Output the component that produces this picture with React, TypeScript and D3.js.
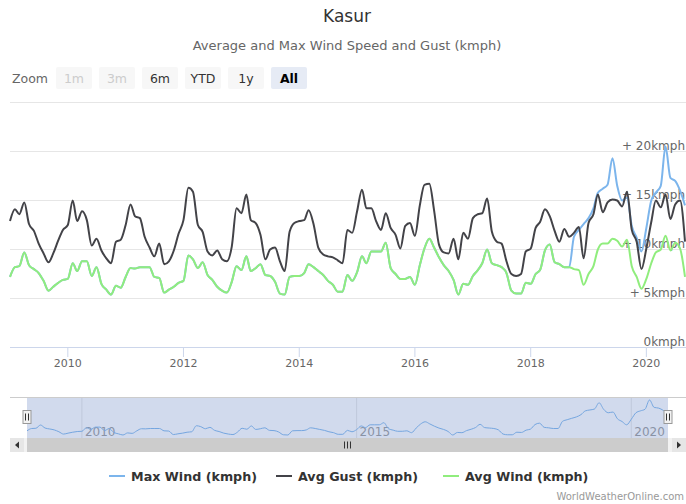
import React from "react";
import * as d3 from "d3";

// ---- data (monthly, Jan 2009 .. Sep 2020) ----
const startYear = 2009;
const avgGust = [
  12.9, 14.1, 13.6, 14.8, 12.6, 11.9, 10.6, 9.6, 8.7, 9.6, 10.9, 12.0,
  12.5, 15.0, 12.9, 13.9, 13.0, 10.4, 11.1, 9.9, 9.1, 8.6, 10.8, 11.0,
  12.5, 14.6, 13.4, 13.2, 11.3, 10.2, 9.3, 10.6, 8.5, 8.8, 9.9, 11.6,
  13.0, 16.3, 15.9, 12.5, 11.8, 9.8, 9.4, 9.9, 9.0, 8.8, 10.3, 14.2,
  13.7, 15.6, 13.0, 12.7, 11.5, 9.0, 10.0, 10.2, 8.8, 7.8, 11.8, 12.7,
  12.9, 13.0, 14.0, 12.6, 10.2, 9.5, 9.3, 9.2, 8.9, 8.6, 12.0, 11.7,
  13.9, 16.1, 14.2, 14.2, 12.9, 12.0, 13.7, 12.2, 11.5, 10.1, 12.4, 12.7,
  11.4, 14.5, 16.6, 16.7, 14.0, 10.5, 9.7, 9.6, 11.1, 9.0, 11.7, 11.1,
  13.2, 13.6, 13.7, 15.2, 11.8, 10.8, 10.6, 8.8, 7.5, 7.3, 7.5, 9.8,
  10.1, 12.2, 12.8, 14.1, 13.4, 11.9, 10.8, 12.1, 11.3, 11.7, 12.3, 9.1,
  12.7, 13.6, 15.6, 13.8, 14.8, 15.1, 15.0, 14.4, 15.9, 12.0, 10.8, 8.0,
  10.1, 12.8, 15.0, 14.3, 15.6, 13.1, 14.6, 15.0, 10.8,
];
const avgWind = [
  7.2, 8.2, 8.3, 9.7, 8.4, 8.0, 7.6, 6.8, 5.8, 6.2, 6.6, 6.9,
  7.0, 8.6, 7.8, 8.8, 8.8, 7.3, 8.2, 6.5, 5.9, 5.4, 6.3, 6.1,
  7.2, 8.1, 8.05, 8.2, 8.2, 8.2, 7.2, 7.1, 5.6, 5.9, 6.2, 6.6,
  6.8, 9.4, 9.0, 8.1, 8.7, 7.4, 6.9, 6.2, 5.8, 5.6, 6.7, 8.3,
  7.9, 9.3, 7.8, 8.1, 8.5, 7.4, 7.3, 6.7, 5.5, 5.4, 7.2, 7.3,
  7.3, 7.6, 8.5, 8.2, 7.8, 7.4, 6.8, 6.4, 5.7, 5.7, 7.4, 6.8,
  7.7, 9.3, 8.6, 9.8, 9.8, 9.8, 10.7, 8.1, 7.5, 7.0, 7.0, 7.2,
  6.4, 8.4, 10.1, 11.1, 10.2, 9.2, 8.4, 7.8, 6.9, 5.4, 6.5, 6.4,
  7.3, 7.9, 8.6, 10.0, 8.6, 8.4, 8.2, 7.6, 5.8, 5.5, 5.5, 6.6,
  6.5, 7.5, 7.9, 9.9, 10.5, 8.7, 8.5, 8.2, 8.2, 8.0, 7.9, 6.4,
  7.5, 8.3, 10.0, 10.6, 10.6, 11.1, 10.9, 10.3, 11.0, 8.3, 7.2, 6.0,
  7.0, 8.6, 9.7, 10.0, 11.4, 9.9, 10.7, 10.1, 7.2,
];
// Max Wind is only distinguishable from month index 116 on (earlier it lies under Avg Wind)
const maxWindStartIndex = 116;
const maxWindLate = [
  8.2, 11.3, 12.0, 12.6, 13.2, 14.2, 15.8, 16.2, 16.6, 19.3, 16.5, 15.0,
  15.3, 12.4, 11.2, 9.8, 12.2, 15.0, 15.8, 16.5, 20.5, 17.3, 17.0, 16.0, 14.5,
];
const maxWind = avgWind.slice(0, maxWindStartIndex).concat(maxWindLate);

const yTicks = [0, 5, 10, 15, 20, 25];
const yLabels = ["0kmph", "+ 5kmph", "+ 10kmph", "+ 15kmph", "+ 20kmph", ""];
const xTickYears = [2010, 2012, 2014, 2016, 2018, 2020];
const navTickYears = [2010, 2015, 2020];
const zoomButtons = ["1m", "3m", "6m", "YTD", "1y", "All"];
const disabledButtons = ["1m", "3m"];
const selectedButton = "All";

const series = [
  { name: "Max Wind (kmph)", values: maxWind, color: "#7cb5ec" },
  { name: "Avg Gust (kmph)", values: avgGust, color: "#434348" },
  { name: "Avg Wind (kmph)", values: avgWind, color: "#90ed7d" },
];

const FONT = "'DejaVu Sans', Verdana, sans-serif";

export default function App() {
  const W = 686, H = 504;
  const start = new Date(startYear, 0, 1);
  const dates = avgGust.map((_, i) => d3.timeMonth.offset(start, i));
  const end = dates[dates.length - 1];

  const x = d3.scaleTime().domain([start, end]).range([10, 685]);
  const y = d3.scaleLinear().domain([0, 25]).range([347.5, 102.5]);

  const xn = d3.scaleTime().domain([start, end]).range([27, 668]);
  const yn = d3.scaleLinear().domain([5.4, 20.5]).range([435, 400]);

  const line = d3
    .line<number>()
    .x((_, i) => x(dates[i]))
    .y((v) => y(v))
    .curve(d3.curveMonotoneX);
  const navLine = d3
    .line<number>()
    .x((_, i) => xn(dates[i]))
    .y((v) => yn(v))
    .curve(d3.curveMonotoneX);

  const btnX0 = 56, btnStep = 43, btnW = 36;

  const legendItems = [
    { sx: 109, tx: 131 },
    { sx: 276, tx: 298 },
    { sx: 443, tx: 465 },
  ];

  return (
    <svg
      width={W}
      height={H}
      style={{ position: "absolute", left: 0, top: 0, background: "#fff" }}
      fontFamily={FONT}
    >
      {/* Title */}
      <text x={347} y={22} textAnchor="middle" fontSize={17} fill="#333">Kasur</text>
      <text x={347} y={50} textAnchor="middle" fontSize={13} fill="#666">
        Average and Max Wind Speed and Gust (kmph)
      </text>

      {/* Range selector */}
      <text x={12} y={83} fontSize={12.5} fill="#666">Zoom</text>
      {zoomButtons.map((b, i) => {
        const bx = btnX0 + i * btnStep;
        const disabled = disabledButtons.includes(b);
        const sel = b === selectedButton;
        return (
          <g key={b}>
            <rect x={bx} y={67} width={btnW} height={22} rx={2} fill={sel ? "#e6ebf5" : "#f7f7f7"} />
            <text
              x={bx + btnW / 2}
              y={82.5}
              textAnchor="middle"
              fontSize={12.5}
              fontWeight={sel ? "bold" : "normal"}
              fill={disabled ? "#cccccc" : sel ? "#000" : "#333"}
            >
              {b}
            </text>
          </g>
        );
      })}

      {/* Grid */}
      {yTicks.map((t) => (
        <line key={t} x1={10} x2={686} y1={y(t)} y2={y(t)} stroke={t === 0 ? "#ccd6eb" : "#e6e6e6"} strokeWidth={1} />
      ))}
      {yTicks.map((t, i) =>
        yLabels[i] ? (
          <text key={"l" + t} x={685} y={y(t) - 2} textAnchor="end" fontSize={12} fill="#666">
            {yLabels[i]}
          </text>
        ) : null
      )}

      {/* X axis */}
      {xTickYears.map((yr) => {
        const tx = x(new Date(yr, 0, 1));
        return (
          <g key={yr}>
            <line x1={tx} x2={tx} y1={347.5} y2={357} stroke="#ccd6eb" />
            <text x={tx} y={367} textAnchor="middle" fontSize={11} fill="#666">{yr}</text>
          </g>
        );
      })}

      {/* Series */}
      {series.map((s) => (
        <path key={s.name} d={line(s.values) || ""} fill="none" stroke={s.color} strokeWidth={2} strokeLinejoin="round" />
      ))}

      {/* Navigator */}
      <line x1={10} x2={686} y1={397.5} y2={397.5} stroke="#cccccc" />
      {navTickYears.map((yr) => {
        const tx = xn(new Date(yr, 0, 1));
        return (
          <g key={"n" + yr}>
            <line x1={tx} x2={tx} y1={398} y2={438} stroke="#e6e6e6" />
            <text x={tx + 3} y={436} fontSize={12} fill="#999">{yr}</text>
          </g>
        );
      })}
      <path d={navLine(maxWind) || ""} fill="none" stroke="#7cb5ec" strokeWidth={1} />
      <rect x={27} y={398} width={641} height={40} fill="rgba(102,133,194,0.3)" />
      {[27, 668].map((hx) => (
        <g key={"h" + hx}>
          <rect x={hx - 4} y={410.5} width={8} height={13} fill="#f2f2f2" stroke="#999" />
          <line x1={hx - 1.5} x2={hx - 1.5} y1={413.5} y2={420.5} stroke="#333" />
          <line x1={hx + 1.5} x2={hx + 1.5} y1={413.5} y2={420.5} stroke="#333" />
        </g>
      ))}

      {/* Scrollbar */}
      <rect x={10} y={438} width={676} height={14} fill="#f2f2f2" />
      <rect x={27} y={438} width={641} height={14} fill="#cccccc" />
      <rect x={10} y={438} width={14} height={14} fill="#e6e6e6" />
      <rect x={672} y={438} width={14} height={14} fill="#e6e6e6" />
      <path d="M19,441.5 L19,448.5 L15,445 Z" fill="#333" />
      <path d="M677,441.5 L677,448.5 L681,445 Z" fill="#333" />
      {[-3, 0, 3].map((o) => (
        <line key={"g" + o} x1={347.5 + o} x2={347.5 + o} y1={441.5} y2={448.5} stroke="#333" />
      ))}

      {/* Legend */}
      {series.map((s, i) => (
        <g key={"lg" + s.name}>
          <line x1={legendItems[i].sx} x2={legendItems[i].sx + 16} y1={476} y2={476} stroke={s.color} strokeWidth={2} />
          <text x={legendItems[i].tx} y={480.5} fontSize={12.7} fontWeight="bold" fill="#333">{s.name}</text>
        </g>
      ))}

      {/* Credits */}
      <text x={684} y={500} textAnchor="end" fontSize={10} fill="#999">WorldWeatherOnline.com</text>
    </svg>
  );
}
